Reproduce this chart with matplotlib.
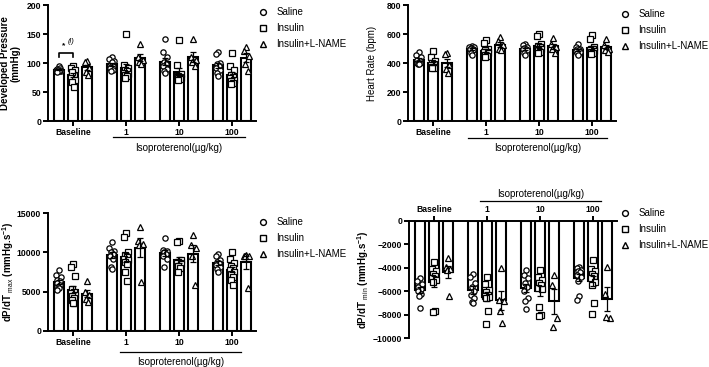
import numpy as np
import matplotlib
matplotlib.use("Agg")
import matplotlib.pyplot as plt
from matplotlib.lines import Line2D

plt.rcParams['font.family'] = ['Liberation Sans', 'DejaVu Sans']
plt.rcParams['mathtext.fontset'] = 'custom'
plt.rcParams['mathtext.rm'] = 'Liberation Sans'
plt.rcParams['mathtext.bf'] = 'Liberation Sans:bold'

groups = ['Baseline', '1', '10', '100']
series = ['Saline', 'Insulin', 'Insulin+L-NAME']
markers = ['o', 's', '^']

# developed pressure (mmHg), per group: saline, insulin, insulin+L-NAME
dp_saline = [[96, 88, 87, 90, 92, 86, 89, 88, 87, 85],
             [110, 108, 104, 98, 95, 92, 88, 86, 102],
             [141, 120, 110, 103, 98, 95, 90, 86, 83],
             [119, 116, 101, 98, 95, 92, 88, 83, 78]]
dp_insulin = [[95, 92, 88, 84, 80, 76, 72, 68, 60, 85],
              [150, 97, 92, 88, 86, 84, 82, 80, 78, 75],
              [140, 97, 82, 79, 77, 76, 75, 74, 73, 72],
              [118, 95, 88, 80, 77, 74, 72, 70, 67, 64]]
dp_lname = [[104, 103, 92, 85, 80],
            [133, 110, 105, 103, 98],
            [141, 110, 106, 103, 95],
            [128, 122, 112, 98, 86]]

# heart rate (bpm)
hr_saline = [[478, 460, 440, 425, 415, 405, 400, 395, 392],
             [520, 515, 510, 505, 500, 495, 490, 470, 460],
             [530, 525, 515, 505, 500, 495, 490, 470, 455],
             [535, 510, 500, 495, 490, 485, 480, 470, 460]]
hr_insulin = [[482, 440, 415, 400, 392, 385, 378, 372, 368, 365],
              [560, 540, 500, 490, 480, 475, 470, 460, 450, 440],
              [600, 585, 530, 520, 510, 500, 495, 490, 480, 470],
              [595, 570, 510, 500, 495, 490, 485, 480, 470, 465]]
hr_lname = [[470, 463, 385, 360, 335],
            [580, 550, 525, 500, 490],
            [575, 530, 515, 500, 470],
            [565, 525, 500, 490, 480]]

# dP/dT max (mmHg/s)
max_saline = [[7700, 7100, 6800, 6500, 6300, 6100, 5900, 5600, 5400, 5200],
              [11300, 10600, 10200, 10000, 9800, 9500, 9200, 8200, 7900],
              [11800, 10300, 10200, 10000, 9800, 9600, 9200, 8200],
              [9800, 9500, 9000, 8800, 8600, 8400, 8200, 7900, 7500]]
max_insulin = [[8500, 8200, 7000, 5300, 5000, 4800, 4600, 4400, 4200, 3900, 3600, 3500],
               [12500, 12000, 10000, 9700, 9400, 9200, 9000, 8800, 8500, 7500, 6300],
               [11500, 11300, 9000, 8800, 8700, 8600, 8500, 8300, 8000, 7500],
               [10000, 9200, 8700, 8300, 8000, 7800, 7500, 7200, 6800, 6500, 5900]]
max_lname = [[6400, 5000, 4600, 4000, 3700],
             [13300, 11400, 11100, 11000, 6200],
             [12200, 11000, 10500, 9500, 5900],
             [9700, 9600, 9500, 9500, 5400]]

# dP/dT min (mmHg/s)
min_saline = [[-4900, -5100, -5400, -5600, -5800, -6000, -6200, -6400, -7400],
              [-4500, -4800, -5300, -5600, -6000, -6300, -6600, -6900, -7000],
              [-4200, -4600, -4900, -5300, -5600, -6000, -6600, -6800, -7500],
              [-3900, -4000, -4200, -4300, -4400, -4600, -4800, -5100, -6400, -6700]]
min_insulin = [[-3500, -4100, -4300, -4500, -4700, -4900, -5000, -5200, -7700, -7800],
               [-4800, -5400, -5900, -6100, -6300, -6400, -6500, -6600, -7700, -8800],
               [-4200, -4800, -5000, -5300, -5500, -5700, -5800, -7300, -8000, -8100],
               [-3300, -4100, -4300, -4500, -4700, -4900, -5200, -5500, -7000, -7900]]
min_lname = [[-3200, -3900, -4100, -4200, -6400],
             [-4000, -6700, -6800, -7700, -8700],
             [-4600, -5500, -8300, -9000],
             [-3900, -6200, -8300, -8200]]

jit = 0.042 * np.array([0, -1, 1, -0.5, 0.5, -0.8, 0.8, -0.3, 0.3, -0.6, 0.6, 0.15])
offsets = [-0.27, 0, 0.27]
width = 0.19


def panel(ax, data, ylim, yticks, ylabel, label_x, neg=False):
    for s, vals in enumerate(data):
        for g, pts in enumerate(vals):
            pts = np.array(pts, dtype=float)
            x = g + offsets[s]
            m = pts.mean()
            sem = pts.std(ddof=1) / np.sqrt(len(pts))
            ax.bar(x, m, width, color='white', edgecolor='black', linewidth=1.5, zorder=1)
            ax.plot(x + jit[:len(pts)], pts, ls='none', marker=markers[s], ms=3.8,
                    mfc='white', mec='black', mew=0.9, zorder=2, clip_on=False)
            ax.errorbar(x, m, yerr=sem, fmt='none', ecolor='black', elinewidth=0.9,
                        capsize=2.2, capthick=0.9, zorder=3)
    ax.set_xlim(-0.47, 3.45)
    ax.set_ylim(*ylim)
    ax.set_yticks(yticks)
    ax.set_xticks(range(4))
    ax.set_xticklabels(groups)
    ax.spines['right'].set_visible(False)
    if neg:
        ax.spines['bottom'].set_visible(False)
        ax.xaxis.tick_top()
    else:
        ax.spines['top'].set_visible(False)
    for sp in ax.spines.values():
        sp.set_linewidth(1.4)
    ax.tick_params(width=1.4, length=3.5, labelsize=6.2, pad=1.5)
    for t in ax.get_xticklabels() + ax.get_yticklabels():
        t.set_fontweight('bold')
    ax.set_ylabel(ylabel, fontsize=7, fontweight='bold' if 'Heart' not in ylabel else 'normal',
                  linespacing=1.1)
    ax.yaxis.set_label_coords(label_x, 0.5)


def iso(ax, x0, x1, yline, ytext):
    tr = ax.get_xaxis_transform()
    ax.plot([x0, x1], [yline, yline], color='black', lw=0.9, transform=tr, clip_on=False)
    ax.text((x0 + x1) / 2, ytext, 'Isoproterenol(µg/kg)', transform=tr,
            ha='center', va='center', fontsize=7)


def legend(ax, x, y):
    handles = [Line2D([], [], ls='none', marker=mk, ms=4.2, mfc='white', mec='black', mew=1)
               for mk in markers]
    ax.legend(handles, series, loc='upper left', bbox_to_anchor=(x / 709, 1 - y / 367),
              bbox_transform=fig.transFigure, frameon=False, fontsize=7, handlelength=1,
              handletextpad=0.9, labelspacing=0.62, borderpad=0, borderaxespad=0)


fig = plt.figure(figsize=(7.09, 3.67), dpi=100)
ax1 = fig.add_axes([48 / 709, 0.669, 208 / 709, 0.317])
ax2 = fig.add_axes([408 / 709, 0.669, 208 / 709, 0.317])
ax3 = fig.add_axes([48 / 709, 0.0989, 208 / 709, 0.320])
ax4 = fig.add_axes([409 / 709, 0.078, 208 / 709, 0.3206])

panel(ax1, [dp_saline, dp_insulin, dp_lname], (0, 200), [0, 50, 100, 150, 200],
      'Developed Pressure\n(mmHg)', -0.13)
panel(ax2, [hr_saline, hr_insulin, hr_lname], (0, 800), [0, 200, 400, 600, 800],
      'Heart Rate (bpm)', -0.15)
panel(ax3, [max_saline, max_insulin, max_lname], (0, 15000), [0, 5000, 10000, 15000],
      r'dP/dT $_{\rm max}$ (mmHg.s$^{\mathbf{-1}}$)', -0.155)
panel(ax4, [min_saline, min_insulin, min_lname], (-10000, 0),
      [-10000, -8000, -6000, -4000, -2000, 0],
      r'dP/dT $_{\rm min}$ (mmHg.s$^{\mathbf{-1}}$)', -0.185, neg=True)

iso(ax1, 0.75, 3.25, -0.133, -0.227)
iso(ax2, 0.66, 3.28, -0.142, -0.227)
iso(ax3, 0.89, 3.16, -0.18, -0.27)
iso(ax4, 0.87, 3.15, 1.17, 1.23)

# significance bracket, baseline saline vs insulin
ax1.plot([-0.27, -0.27, 0, 0], [110, 118, 118, 110], color='black', lw=1.2)
ax1.text(-0.18, 131, '*', ha='center', va='center', fontsize=6, fontweight='bold')
ax1.text(-0.04, 138, '(i)', ha='center', va='center', fontsize=5.5, style='italic')

legend(ax1, 258, 7)
legend(ax2, 620, 9)
legend(ax3, 258, 217)
legend(ax4, 620, 208)

fig.savefig('out.png', dpi=100)
